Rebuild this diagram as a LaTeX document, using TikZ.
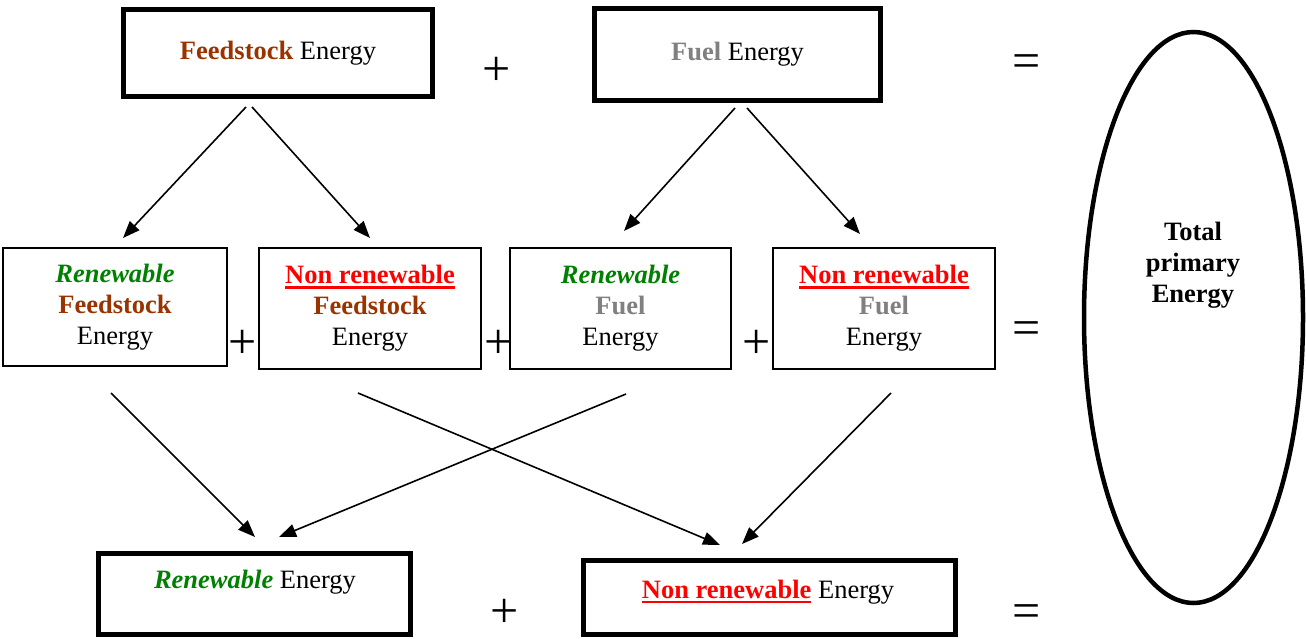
\documentclass[tikz,border=0pt]{standalone}
\usepackage{fontspec}
\setmainfont{Liberation Serif}
\usetikzlibrary{arrows.meta,shapes.geometric}

\definecolor{feedcol}{RGB}{153,51,0}
\definecolor{renewcol}{RGB}{0,128,0}
\definecolor{fuelcol}{RGB}{128,128,128}
\definecolor{nonrenewcol}{RGB}{255,0,0}

% red underline for "Non renewable"
\newcommand\redul[1]{\setbox0\hbox{#1}\rlap{\color{nonrenewcol}\rule[-5pt]{\wd0}{2.5pt}}\box0}
\newcommand\feed{\textbf{\color{feedcol}Feedstock}}
\newcommand\fuel{\textbf{\color{fuelcol}Fuel}}
\newcommand\renew{\textbf{\textit{\color{renewcol}Renewable}}}
\newcommand\nonrenew{\redul{\textbf{\color{nonrenewcol}Non renewable}}}

\begin{document}
\begin{tikzpicture}[x=1pt,y=-1pt,
  font=\fontsize{26.5}{31}\selectfont,
  thickbox/.style={draw, line width=5pt, inner sep=0pt},
  thinbox/.style={draw, line width=2pt, inner sep=0pt, align=center},
  label/.style={inner sep=0pt, align=center},
  op/.style={inner sep=0pt, font=\fontsize{50}{50}\selectfont},
  arr/.style={-{Triangle[length=17pt,width=13pt]}, line width=1.6pt}]
\useasboundingbox (0,0) rectangle (1306,638);

% top row
\node[thickbox, minimum width=309, minimum height=87] (fe) at (278,53) {\feed{} Energy};
\node[thickbox, minimum width=286, minimum height=92] (fu) at (737.5,54.5) {\fuel{} Energy};
\node[op] (p1) at (497,71) {+};
\node[op] (e1) at (1027,66) {=};

% middle row
\node[thinbox, minimum width=224, minimum height=118] (rf) at (115,307) {\renew\\\feed\\Energy};
\node[thinbox, minimum width=222, minimum height=121] (nf) at (370,308.5) {\nonrenew\\\feed\\Energy};
\node[thinbox, minimum width=221, minimum height=121] (ru) at (620.5,308.5) {\renew\\\fuel\\Energy};
\node[thinbox, minimum width=222, minimum height=121] (nu) at (884,308.5) {\nonrenew\\\fuel\\Energy};
\node[op] (p2) at (243,344) {+};
\node[op] (p3) at (499,344) {+};
\node[op] (p4) at (757,344) {+};
\node[op] (e2) at (1027,333) {=};

% bottom row
\node[thickbox, minimum width=312, minimum height=81] (re) at (254.5,594) {};
\node[label] (ret) at (255,582) {\renew{} Energy};
\node[thickbox, minimum width=372, minimum height=74] (ne) at (769.5,597.5) {};
\node[label] (net) at (768,592) {\nonrenew{} Energy};
\node[op] (p5) at (505,613) {+};
\node[op] (e3) at (1027,616) {=};

% total
\node[draw, ellipse, line width=4.5pt, minimum width=219, minimum height=571, inner sep=0pt] (tot) at (1193.5,317.5) {};
\node[label, font=\fontsize{26.5}{31}\selectfont\bfseries] (tott) at (1193,265) {Total\\primary\\Energy};

% arrow end points
\coordinate (fe-a) at (246,107);
\coordinate (fe-b) at (252,107);
\coordinate (rf-in) at (123,238);
\coordinate (nf-in) at (370,238);
\coordinate (fu-a) at (735,108);
\coordinate (fu-b) at (747,108);
\coordinate (ru-in) at (624,231);
\coordinate (nu-in) at (860,234);
\coordinate (rf-out) at (111,393);
\coordinate (nf-out) at (358,393);
\coordinate (ru-out) at (626,394);
\coordinate (nu-out) at (891,393);
\coordinate (re-a) at (255,537);
\coordinate (re-b) at (279,537);
\coordinate (ne-a) at (720,545);
\coordinate (ne-b) at (742,544);

\draw[arr] (fe-a) -- (rf-in);
\draw[arr] (fe-b) -- (nf-in);
\draw[arr] (fu-a) -- (ru-in);
\draw[arr] (fu-b) -- (nu-in);
\draw[arr] (rf-out) -- (re-a);
\draw[arr] (ru-out) -- (re-b);
\draw[arr] (nf-out) -- (ne-a);
\draw[arr] (nu-out) -- (ne-b);
\end{tikzpicture}
\end{document}
